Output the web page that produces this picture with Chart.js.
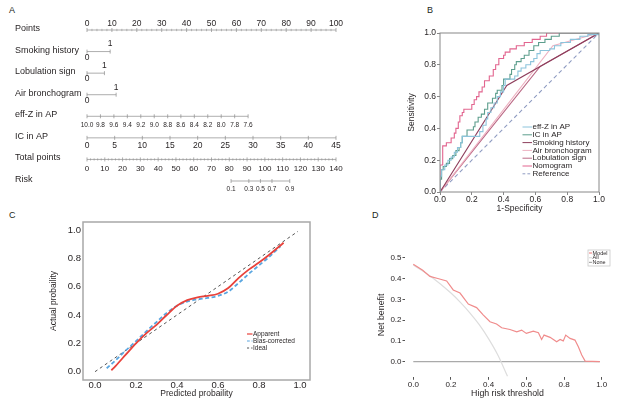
<!DOCTYPE html>
<html>
<head>
<meta charset="utf-8">
<script src="https://cdn.jsdelivr.net/npm/chart.js@4.4.1/dist/chart.umd.min.js"></script>
<style>
  body { margin: 0; background: #fff; width: 635px; height: 403px; position: relative; overflow: hidden;
         font-family: "Liberation Sans", Arial, sans-serif; color: #231f20; }
  canvas { position: absolute; }
  .tag { position: absolute; font-size: 9px; line-height: 10px; }
</style>
</head>
<body>
<div class="tag" style="left:9px;top:5px">A</div>
<div class="tag" style="left:427px;top:5px">B</div>
<div class="tag" style="left:9px;top:210px">C</div>
<div class="tag" style="left:372px;top:210px">D</div>
<canvas id="nomo" width="400" height="200" style="left:0;top:0"></canvas>
<canvas id="roc" width="235" height="215" style="left:400px;top:0"></canvas>
<canvas id="calib" width="320" height="203" style="left:0;top:200px"></canvas>
<canvas id="dca" width="315" height="203" style="left:320px;top:200px"></canvas>
<script>
// ---- A: nomogram ----
const nomoRows = ['Points', 'Smoking history', 'Lobulation sign', 'Air bronchogram', 'eff-Z in AP', 'IC in AP', 'Total points', 'Risk'];
const pointTicks = [0, 10, 20, 30, 40, 50, 60, 70, 80, 90, 100];
const smokingPts = [0, 9.3];
const lobulationPts = [0, 7.0];
const airPts = [0, 11.7];
const effZLabels = ['10.0', '9.8', '9.6', '9.4', '9.2', '9.0', '8.8', '8.6', '8.4', '8.2', '8.0', '7.8', '7.6'];
const effZPts = [0, 5.4, 10.8, 16.2, 21.6, 27.0, 32.4, 37.7, 43.1, 48.5, 53.9, 59.3, 64.7];
const icTicks = [0, 5, 10, 15, 20, 25, 30, 35, 40, 45];
const totalTicks = [0, 10, 20, 30, 40, 50, 60, 70, 80, 90, 100, 110, 120, 130, 140];
const riskLabels = ['0.1', '0.3', '0.5', '0.7', '0.9'];
const riskTotal = [81, 91, 97.5, 104, 114];

// ---- B: ROC ----
const effZFpr = [0, 0, 0.01, 0.03, 0.05, 0.07, 0.09, 0.11, 0.13, 0.14, 0.25, 0.27, 0.29, 0.30, 0.32, 0.34, 0.36, 0.38, 0.40, 0.41, 0.47, 0.49, 0.51, 0.54, 0.57, 0.59, 0.61, 0.63, 0.69, 0.72, 0.76, 0.82, 0.88, 0.93, 1];
const effZTpr = [0, 0.10, 0.14, 0.17, 0.20, 0.22, 0.25, 0.28, 0.31, 0.35, 0.38, 0.42, 0.46, 0.50, 0.53, 0.56, 0.60, 0.63, 0.67, 0.71, 0.73, 0.76, 0.78, 0.80, 0.82, 0.84, 0.87, 0.89, 0.90, 0.92, 0.94, 0.96, 0.98, 0.99, 1];
const icFpr = [0, 0, 0.01, 0.02, 0.04, 0.06, 0.08, 0.10, 0.12, 0.13, 0.14, 0.17, 0.21, 0.22, 0.24, 0.26, 0.28, 0.30, 0.33, 0.35, 0.36, 0.39, 0.40, 0.44, 0.45, 0.47, 0.48, 0.51, 0.53, 0.56, 0.59, 0.62, 0.66, 0.70, 0.75, 1];
const icTpr = [0, 0.08, 0.14, 0.16, 0.18, 0.21, 0.23, 0.26, 0.28, 0.31, 0.35, 0.39, 0.41, 0.44, 0.47, 0.49, 0.52, 0.56, 0.59, 0.62, 0.64, 0.67, 0.71, 0.74, 0.77, 0.80, 0.82, 0.84, 0.86, 0.89, 0.92, 0.94, 0.96, 0.98, 1, 1];
const smokingFpr = [0, 0.42, 1];
const smokingTpr = [0, 0.67, 1];
const airFpr = [0, 0.71, 1];
const airTpr = [0, 0.92, 1];
const lobulationFpr = [0, 0.63, 1];
const lobulationTpr = [0, 0.79, 1];
const nomoFpr = [0, 0, 0.017, 0.04, 0.07, 0.09, 0.10, 0.115, 0.125, 0.14, 0.15, 0.20, 0.215, 0.23, 0.245, 0.265, 0.28, 0.31, 0.335, 0.35, 0.37, 0.40, 0.41, 0.44, 0.48, 0.53, 0.58, 0.63, 0.67, 1];
const nomoTpr = [0, 0.17, 0.29, 0.31, 0.34, 0.37, 0.40, 0.44, 0.48, 0.50, 0.52, 0.55, 0.58, 0.60, 0.63, 0.66, 0.70, 0.73, 0.77, 0.80, 0.84, 0.86, 0.88, 0.90, 0.92, 0.94, 0.96, 0.98, 1, 1];
const refFpr = [0, 1];
const refTpr = [0, 1];
const rocTicks = [0, 0.2, 0.4, 0.6, 0.8, 1.0];

// ---- C: calibration ----
const apparentX = [0.08, 0.10, 0.15, 0.20, 0.25, 0.30, 0.35, 0.40, 0.45, 0.50, 0.55, 0.60, 0.65, 0.70, 0.75, 0.80, 0.85, 0.92];
const apparentY = [0.01, 0.04, 0.12, 0.20, 0.27, 0.33, 0.40, 0.465, 0.505, 0.525, 0.535, 0.55, 0.59, 0.66, 0.72, 0.77, 0.825, 0.91];
const biasX = [0.057, 0.10, 0.15, 0.20, 0.25, 0.30, 0.35, 0.40, 0.45, 0.50, 0.55, 0.60, 0.65, 0.70, 0.75, 0.80, 0.85, 0.905];
const biasY = [0.024, 0.08, 0.15, 0.215, 0.285, 0.35, 0.415, 0.465, 0.495, 0.51, 0.52, 0.535, 0.565, 0.625, 0.69, 0.75, 0.81, 0.885];
const idealX = [0, 0.99];
const idealY = [0, 0.99];
const calTicks = [0, 0.2, 0.4, 0.6, 0.8, 1.0];

// ---- D: decision curve ----
const modelX = [0, 0.05, 0.088, 0.13, 0.177, 0.212, 0.248, 0.292, 0.336, 0.372, 0.407, 0.442, 0.469, 0.513, 0.549, 0.575, 0.60, 0.637, 0.664, 0.681, 0.694, 0.726, 0.761, 0.779, 0.796, 0.809, 0.832, 0.858, 0.876, 0.894, 0.912, 0.99];
const modelY = [0.468, 0.44, 0.41, 0.40, 0.388, 0.345, 0.33, 0.277, 0.26, 0.224, 0.192, 0.181, 0.163, 0.155, 0.144, 0.152, 0.136, 0.147, 0.139, 0.107, 0.128, 0.117, 0.096, 0.107, 0.10, 0.128, 0.112, 0.104, 0.072, 0.032, 0.003, 0.0];
const allX = [0, 0.1, 0.2, 0.25, 0.3, 0.35, 0.4, 0.45, 0.5];
const allY = [0.465, 0.405, 0.33, 0.285, 0.235, 0.178, 0.11, 0.03, -0.07];
const noneX = [0, 0.99];
const noneY = [0, 0];
const dcaXTicks = [0, 0.2, 0.4, 0.6, 0.8, 1.0];
const dcaYTicks = [0, 0.1, 0.2, 0.3, 0.4, 0.5];

const FONT = '"Liberation Sans", Arial, sans-serif';
const INK = '#231f20';
Chart.defaults.font.family = FONT;
Chart.defaults.color = INK;

const zip = (xs, ys) => xs.map((x, i) => ({x: x, y: ys[i]}));
const fixTicks = vals => s => { s.ticks = vals.map(v => ({value: v})); };

// ---------- A ----------
const icPts = icTicks.map(v => v * 100 / 45);
const totalPts = totalTicks.map(v => v * 100 / 140);
const riskPts = riskTotal.map(v => v * 100 / 140);
let pointsMinor = [], totalMinor = [];
for (let v = 0; v <= 100; v += 2) if (v % 10) pointsMinor.push(v);
for (let v = 0; v <= 140; v += 2) if (v % 10) totalMinor.push(v * 100 / 140);

function rowSet(row, pts, labels, size, off) {
  return {
    data: pts.map(p => ({x: p, y: row})),
    showLine: true, borderColor: '#8a8a8a', borderWidth: 0.7,
    pointStyle: 'line', rotation: 90, pointRadius: 2, pointBorderColor: '#8a8a8a', pointBorderWidth: 0.7,
    clip: false, tickText: labels, tickSize: size, tickOff: off
  };
}
function minorSet(row, pts) {
  return {
    data: pts.map(p => ({x: p, y: row})), showLine: false,
    pointStyle: 'line', rotation: 90, pointRadius: 1.2, pointBorderColor: '#9a9a9a', pointBorderWidth: 0.6, clip: false
  };
}

const nomoText = {
  id: 'nomoText',
  afterDatasetsDraw(chart) {
    const ctx = chart.ctx, ys = chart.scales.y;
    ctx.save();
    ctx.fillStyle = INK;
    ctx.textBaseline = 'middle';
    ctx.textAlign = 'left';
    ctx.font = '9px ' + FONT;
    nomoRows.forEach((r, i) => ctx.fillText(r, 15, ys.getPixelForValue(i) - 1.5));
    ctx.textAlign = 'center';
    chart.data.datasets.forEach((ds, i) => {
      if (!ds.tickText) return;
      const meta = chart.getDatasetMeta(i);
      ctx.font = ds.tickSize + 'px ' + FONT;
      ds.tickText.forEach((t, j) => {
        const el = meta.data[j];
        const off = Array.isArray(ds.tickOff) ? ds.tickOff[j] : ds.tickOff;
        ctx.fillText(t, el.x, el.y + off);
      });
    });
    ctx.restore();
  }
};

new Chart(document.getElementById('nomo'), {
  type: 'scatter',
  data: {
    datasets: [
      rowSet(0, pointTicks, pointTicks.map(String), 8.5, -6),
      minorSet(0, pointsMinor),
      rowSet(1, smokingPts, ['0', '1'], 8.5, [6, -7.5]),
      rowSet(2, lobulationPts, ['0', '1'], 8.5, [6, -7.5]),
      rowSet(3, airPts, ['0', '1'], 8.5, [6, -7.5]),
      rowSet(4, effZPts, effZLabels, 6.5, 8.5),
      rowSet(5, icPts, icTicks.map(String), 8.5, 8),
      rowSet(6, totalPts, totalTicks.map(String), 8, 9),
      minorSet(6, totalMinor),
      rowSet(7, riskPts, riskLabels, 6.5, 8)
    ]
  },
  options: {
    responsive: false, animation: false, events: [],
    layout: {padding: {left: 87, right: 64, top: 30, bottom: 19}},
    plugins: {legend: {display: false}, tooltip: {enabled: false}},
    scales: {
      x: {type: 'linear', min: 0, max: 100, display: false},
      y: {type: 'linear', min: 0, max: 7, reverse: true, display: false}
    }
  },
  plugins: [nomoText]
});

// ---------- shared helpers ----------
function framePlugin(color, width) {
  return {
    id: 'frame',
    afterDatasetsDraw(chart) {
      const {ctx, chartArea: a} = chart;
      ctx.save();
      ctx.strokeStyle = color; ctx.lineWidth = width;
      ctx.strokeRect(a.left, a.top, a.right - a.left, a.bottom - a.top);
      ctx.restore();
    }
  };
}
function lineLegend(x0, y0, gap, len, size, box) {
  return {
    id: 'lineLegend',
    afterDraw(chart) {
      const {ctx, chartArea: a} = chart;
      ctx.save();
      if (box) {
        ctx.fillStyle = '#fff'; ctx.strokeStyle = '#c8c8c8'; ctx.lineWidth = 0.8;
        ctx.fillRect(a.left + box[0], a.top + box[1], box[2], box[3]);
        ctx.strokeRect(a.left + box[0], a.top + box[1], box[2], box[3]);
      }
      ctx.font = size + 'px ' + FONT;
      ctx.textBaseline = 'middle'; ctx.textAlign = 'left';
      ctx.fillStyle = INK;
      chart.data.datasets.forEach((ds, i) => {
        const x = a.left + x0, y = a.top + y0 + i * gap;
        ctx.strokeStyle = ds.borderColor;
        ctx.lineWidth = Math.min(ds.borderWidth || 1, 1.2);
        ctx.setLineDash(ds.borderDash ? ds.borderDash.map(d => d * 0.7) : []);
        ctx.beginPath(); ctx.moveTo(x, y); ctx.lineTo(x + len, y); ctx.stroke();
        ctx.setLineDash([]);
        ctx.fillText(ds.label, x + len + 0.5, y);
      });
      ctx.restore();
    }
  };
}

// ---------- B ----------
new Chart(document.getElementById('roc'), {
  type: 'scatter',
  data: {
    datasets: [
      {label: 'eff-Z in AP', data: zip(effZFpr, effZTpr), borderColor: '#8cc4dc', stepped: true},
      {label: 'IC in AP', data: zip(icFpr, icTpr), borderColor: '#5d9e8d', stepped: true},
      {label: 'Smoking history', data: zip(smokingFpr, smokingTpr), borderColor: '#8e3e5c'},
      {label: 'Air bronchogram', data: zip(airFpr, airTpr), borderColor: '#eeb1c1'},
      {label: 'Lobulation sign', data: zip(lobulationFpr, lobulationTpr), borderColor: '#bb6a86'},
      {label: 'Nomogram', data: zip(nomoFpr, nomoTpr), borderColor: '#e2658f', stepped: true},
      {label: 'Reference', data: zip(refFpr, refTpr), borderColor: '#8f9cc2', borderDash: [4, 3]}
    ]
  },
  options: {
    responsive: false, animation: false, events: [],
    showLine: true,
    layout: {padding: {left: 0, right: 36, top: 33, bottom: 0}},
    elements: {point: {radius: 0}, line: {borderWidth: 1.1}},
    plugins: {legend: {display: false}, tooltip: {enabled: false}},
    scales: {
      x: {
        type: 'linear', min: 0, max: 1,
        afterBuildTicks: fixTicks(rocTicks), afterFit: s => { s.height = 23; },
        ticks: {callback: v => v.toFixed(1), font: {size: 8.5}, padding: 0, maxRotation: 0},
        grid: {drawOnChartArea: false, tickLength: 3, color: '#888'},
        border: {display: false},
        title: {display: true, text: '1-Specificity', font: {size: 8.5}, padding: {top: 0, bottom: 1}}
      },
      y: {
        type: 'linear', min: 0, max: 1,
        afterBuildTicks: fixTicks(rocTicks), afterFit: s => { s.width = 40; },
        ticks: {callback: v => v.toFixed(1), font: {size: 8.5}, padding: 1},
        grid: {drawOnChartArea: false, tickLength: 3, color: '#888'},
        border: {display: false},
        title: {display: true, text: 'Sensitivity', font: {size: 8.5}, padding: {top: 7, bottom: 0}}
      }
    }
  },
  plugins: [framePlugin('#888', 1), lineLegend(82.5, 94, 7.8, 9.5, 8)]
});

// ---------- C ----------
new Chart(document.getElementById('calib'), {
  type: 'scatter',
  data: {
    datasets: [
      {label: 'Apparent', data: zip(apparentX, apparentY), borderColor: '#e8423b', borderWidth: 1.8, cubicInterpolationMode: 'monotone'},
      {label: 'Bias-corrected', data: zip(biasX, biasY), borderColor: '#5aa6e0', borderWidth: 1.8, borderDash: [4, 2.5], cubicInterpolationMode: 'monotone'},
      {label: 'Ideal', data: zip(idealX, idealY), borderColor: '#555', borderWidth: 1, borderDash: [3, 3]}
    ]
  },
  options: {
    responsive: false, animation: false, events: [],
    showLine: true,
    layout: {padding: {left: 0, right: 10, top: 22, bottom: 0}},
    elements: {point: {radius: 0}},
    plugins: {legend: {display: false}, tooltip: {enabled: false}},
    scales: {
      x: {
        type: 'linear', min: -0.0585, max: 1.0488,
        afterBuildTicks: fixTicks(calTicks), afterFit: s => { s.height = 23; },
        ticks: {callback: v => v.toFixed(1), font: {size: 9.5}, padding: 0, maxRotation: 0},
        grid: {drawOnChartArea: false, drawTicks: false},
        border: {display: false},
        title: {display: true, text: 'Predicted probaility', font: {size: 8.5}, padding: {top: 0, bottom: 4}}
      },
      y: {
        type: 'linear', min: -0.0586, max: 1.056,
        afterBuildTicks: fixTicks(calTicks), afterFit: s => { s.width = 83; },
        ticks: {callback: v => v.toFixed(1), font: {size: 9.5}, padding: 2},
        grid: {drawOnChartArea: false, drawTicks: false},
        border: {display: false},
        title: {display: true, text: 'Actual probaility', font: {size: 8.5}, padding: {top: 49, bottom: 0}}
      }
    }
  },
  plugins: [framePlugin('#a8a8a8', 1.5), lineLegend(164, 112, 7, 5.5, 6.5)]
});

// ---------- D ----------
new Chart(document.getElementById('dca'), {
  type: 'scatter',
  data: {
    datasets: [
      {label: 'Model', data: zip(modelX, modelY), borderColor: '#f08c8c', borderWidth: 1.2},
      {label: 'All', data: zip(allX, allY), borderColor: '#dddddd', borderWidth: 1.2, cubicInterpolationMode: 'monotone'},
      {label: 'None', data: zip(noneX, noneY), borderColor: '#aaaaaa', borderWidth: 1.2}
    ]
  },
  options: {
    responsive: false, animation: false, events: [],
    showLine: true,
    layout: {padding: {left: 0, right: 25, top: 52.5, bottom: 0}},
    elements: {point: {radius: 0}},
    plugins: {legend: {display: false}, tooltip: {enabled: false}},
    scales: {
      x: {
        type: 'linear', min: -0.044, max: 1.044,
        afterBuildTicks: fixTicks(dcaXTicks), afterFit: s => { s.height = 25.7; },
        ticks: {callback: v => v.toFixed(1), font: {size: 8}, padding: 0, maxRotation: 0},
        grid: {drawOnChartArea: false, tickLength: 2.5, tickColor: '#555'},
        border: {display: false},
        title: {display: true, text: 'High risk threshold', font: {size: 8.8}, padding: {top: 0, bottom: 3.7}}
      },
      y: {
        type: 'linear', min: -0.075, max: 0.525,
        afterBuildTicks: fixTicks(dcaYTicks), afterFit: s => { s.width = 85; },
        ticks: {callback: v => v.toFixed(1), font: {size: 8}, padding: 1},
        grid: {drawOnChartArea: false, tickLength: 2.5, tickColor: '#555'},
        border: {display: false},
        title: {display: true, text: 'Net benefit', font: {size: 8.8}, padding: {top: 56.7, bottom: 0}}
      }
    }
  },
  plugins: [lineLegend(184, 0.5, 4.7, 3, 5.5, [183, -2.5, 22, 16])]
});
</script>
</body>
</html>
